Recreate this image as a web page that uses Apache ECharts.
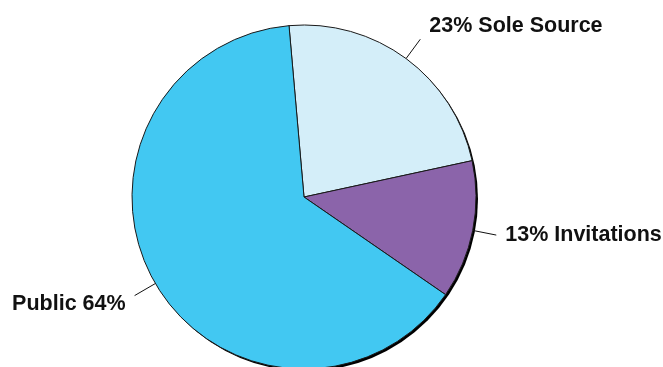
<!DOCTYPE html>
<html>
<head>
<meta charset="utf-8">
<script src="https://cdn.jsdelivr.net/npm/echarts@6/dist/echarts.min.js"></script>
<style>
  html, body { margin: 0; padding: 0; background: #fff; }
  #chart { width: 663px; height: 367px; }
</style>
</head>
<body>
<div id="chart"></div>
<script>
// Tender procedure shares, clockwise from just left of 12 o'clock
const categories = ['Sole Source', 'Invitations', 'Public'];
const shares = [23, 13, 64];
const colors = ['#d4eef9', '#8b64aa', '#42c8f2'];

const CX = 304, CY = 197, R = 172;

const chart = echarts.init(document.getElementById('chart'), null, { renderer: 'canvas' });

const labelFont = {
  fontFamily: '"Liberation Sans", Arial, sans-serif',
  fontWeight: 'bold',
  fontSize: 21.5,
  color: '#111'
};

// small vertical nudges for the callout texts
const labelShift = [-13, 0, 8];

chart.setOption({
  animation: false,
  backgroundColor: '#fff',
  series: [
    {
      // dark offset disc giving the pie its drop edge
      type: 'pie',
      silent: true,
      center: [CX + 2, CY + 2],
      radius: R,
      label: { show: false },
      labelLine: { show: false },
      itemStyle: { color: '#000' },
      data: [{ value: 1, name: '' }],
      z: 1
    },
    {
      type: 'pie',
      center: [CX, CY],
      radius: R,
      startAngle: 95,
      clockwise: true,
      avoidLabelOverlap: false,
      z: 2,
      itemStyle: { borderColor: '#1a1a1a', borderWidth: 1 },
      label: {
        show: true,
        position: 'outside',
        distanceToLabelLine: 9,
        overflow: 'none',
        formatter: (p) => p.dataIndex === 2 ? `${p.name} ${p.value}%` : `${p.value}% ${p.name}`,
        ...labelFont
      },
      labelLine: {
        show: true,
        length: 24,
        length2: 0,
        lineStyle: { color: '#111', width: 1 }
      },
      labelLayout: (params) => ({ dy: labelShift[params.dataIndex] }),
      data: categories.map((name, i) => ({
        name,
        value: shares[i],
        itemStyle: { color: colors[i] }
      }))
    }
  ]
});
</script>
</body>
</html>
